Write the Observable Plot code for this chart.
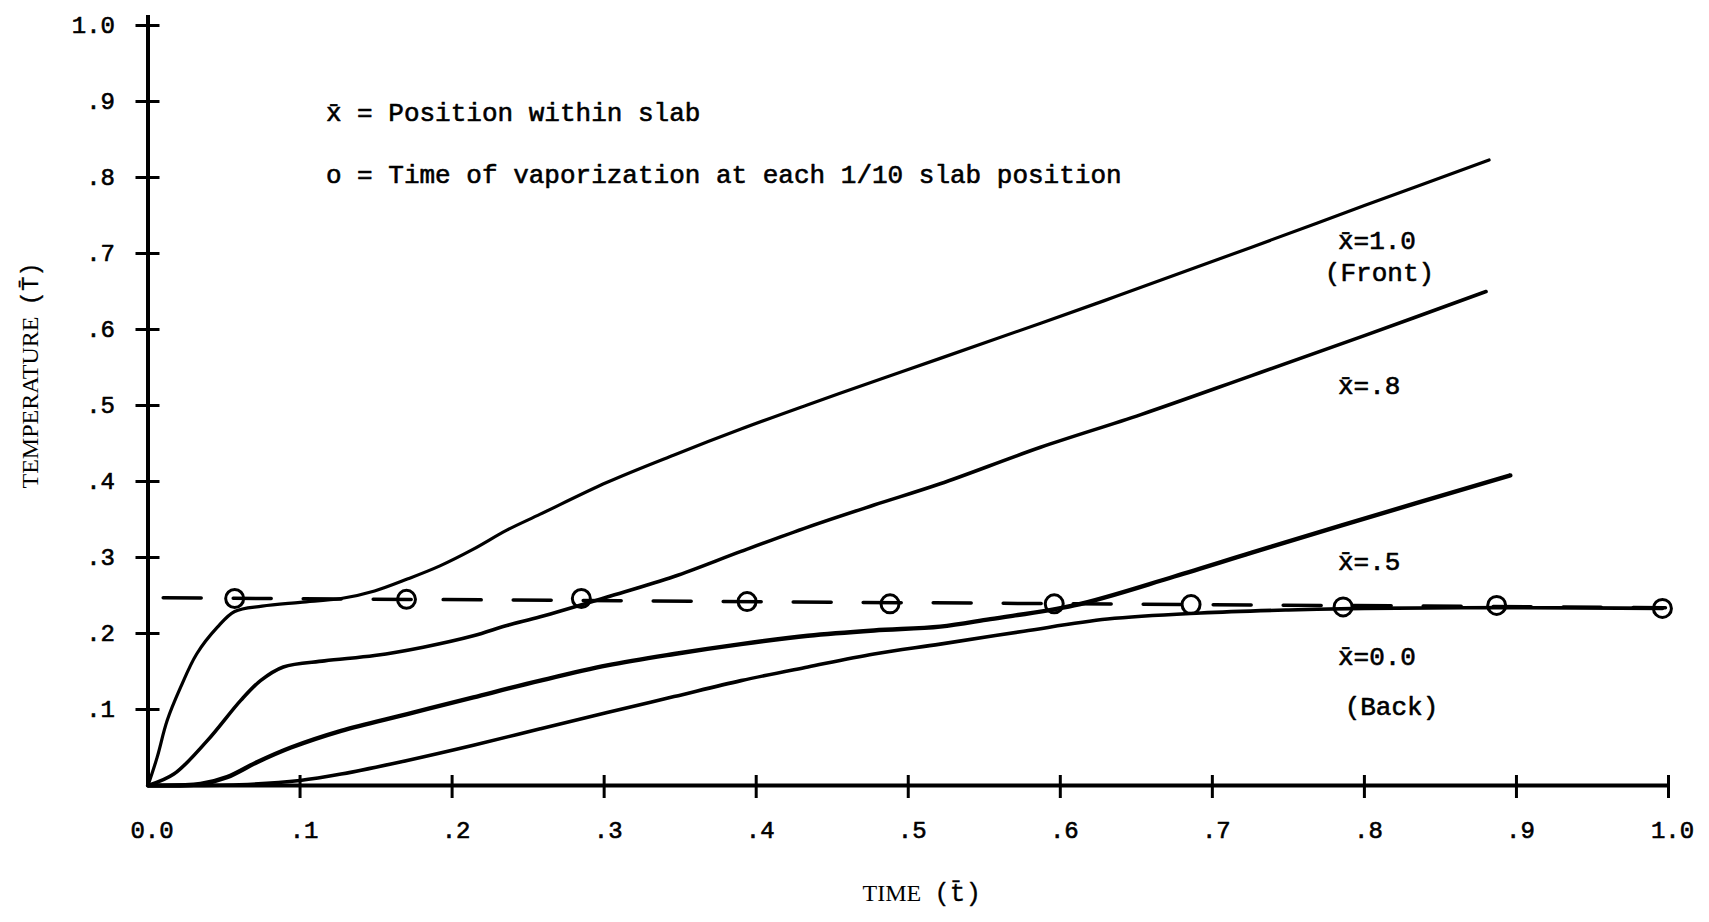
<!DOCTYPE html>
<html>
<head>
<meta charset="utf-8">
<script src="https://cdn.jsdelivr.net/npm/d3@7"></script>
<script src="https://cdn.jsdelivr.net/npm/@observablehq/plot@0.6"></script>
<style>
  html, body { margin: 0; padding: 0; background: #fff; }
  #chart svg { display: block; }
</style>
</head>
<body>
<div id="chart"></div>
<script>
// ---- tick values and labels ----
const xTickValues = [0, 0.1, 0.2, 0.3, 0.4, 0.5, 0.6, 0.7, 0.8, 0.9, 1.0];
const xTickLabels = ["0.0", ".1", ".2", ".3", ".4", ".5", ".6", ".7", ".8", ".9", "1.0"];
const yTickValues = [0.1, 0.2, 0.3, 0.4, 0.5, 0.6, 0.7, 0.8, 0.9, 1.0];
const yTickLabels = [".1", ".2", ".3", ".4", ".5", ".6", ".7", ".8", ".9", "1.0"];

// ---- x = 1.0 (Front) ----
const frontTime = [0, 0.006, 0.0126, 0.0214, 0.032, 0.0455, 0.057, 0.075, 0.10, 0.127, 0.149, 0.171, 0.192, 0.214, 0.236, 0.258, 0.302, 0.346, 0.39, 0.434, 0.482, 0.521, 0.629, 0.7254, 0.80, 0.882];
const frontTemp = [0, 0.037, 0.0855, 0.129, 0.173, 0.208, 0.229, 0.236, 0.241, 0.246, 0.256, 0.272, 0.289, 0.311, 0.336, 0.357, 0.399, 0.435, 0.469, 0.501, 0.535, 0.562, 0.638, 0.708, 0.763, 0.823];

// ---- x = .8 ----
const x08Time = [0, 0.017, 0.039, 0.061, 0.074, 0.089, 0.116, 0.149, 0.181, 0.214, 0.236, 0.258, 0.302, 0.346, 0.39, 0.434, 0.4775, 0.521, 0.587, 0.653, 0.7254, 0.80, 0.880];
const x08Temp = [0, 0.015, 0.059, 0.112, 0.138, 0.156, 0.164, 0.171, 0.182, 0.197, 0.2105, 0.222, 0.248, 0.275, 0.308, 0.340, 0.369, 0.397, 0.445, 0.488, 0.539, 0.592, 0.650];

// ---- x = .5 ----
const x05Time = [0, 0.0345, 0.052, 0.072, 0.094, 0.127, 0.1705, 0.214, 0.258, 0.302, 0.346, 0.39, 0.434, 0.4775, 0.521, 0.554, 0.609, 0.675, 0.7254, 0.7845, 0.896];
const x05Temp = [0, 0.002, 0.011, 0.031, 0.050, 0.072, 0.094, 0.116, 0.138, 0.158, 0.173, 0.186, 0.197, 0.204, 0.209, 0.219, 0.237, 0.275, 0.306, 0.342, 0.408];

// ---- x = 0.0 (Back) ----
const x00Time = [0, 0.06, 0.1, 0.127, 0.1705, 0.214, 0.258, 0.302, 0.346, 0.39, 0.434, 0.4775, 0.521, 0.576, 0.631, 0.6924, 0.75, 0.80, 0.90, 0.996];
const x00Temp = [0, 0.001, 0.0066, 0.015, 0.033, 0.053, 0.0746, 0.096, 0.117, 0.138, 0.156, 0.173, 0.186, 0.203, 0.219, 0.227, 0.231, 0.233, 0.234, 0.233];

// ---- vaporization times (circles) and vaporization line ----
const vapTime = [0.057, 0.170, 0.285, 0.394, 0.488, 0.596, 0.686, 0.786, 0.887, 0.996];
const vapTemp = [0.246, 0.245, 0.246, 0.242, 0.239, 0.239, 0.238, 0.235, 0.237, 0.233];
const vapLineTime = [0.01, 0.998];
const vapLineTemp = [0.247, 0.234];

const rows = (ts, Ts) => ts.map((t, i) => ({t, T: Ts[i]}));

const mono = "Liberation Mono, Courier New, monospace";
const serif = "Liberation Serif, Times New Roman, serif";
const typed = {fontFamily: mono, fill: "black", stroke: "black", strokeWidth: 0.6};

const chart = Plot.plot({
  width: 1709,
  height: 922,
  marginLeft: 147.5,
  marginRight: 41,
  marginTop: 25,
  marginBottom: 137,
  x: {domain: [0, 1], axis: null},
  y: {domain: [0, 1], axis: null},
  style: {background: "white", color: "black", overflow: "visible"},
  marks: [
    // axis lines
    Plot.ruleX([0], {strokeWidth: 4, insetTop: -10}),
    Plot.ruleY([0], {strokeWidth: 4}),
    // crossing ticks
    Plot.axisY({ticks: yTickValues, anchor: "left", tickSize: 24, dx: 12, fill: "none", strokeWidth: 3, label: null}),
    Plot.axisX({ticks: xTickValues.slice(1), anchor: "bottom", tickSize: 23, dy: -10, fill: "none", strokeWidth: 3, label: null}),
    // tick labels
    Plot.text(yTickValues, {y: d => d, frameAnchor: "left", dx: -33, textAnchor: "end", text: (d, i) => yTickLabels[i], fontSize: 24, ...typed}),
    Plot.text(xTickValues, {x: d => d, frameAnchor: "bottom", dy: 52, dx: 4, textAnchor: "middle", text: (d, i) => xTickLabels[i], fontSize: 24, ...typed}),
    // axis titles
    Plot.text(["TEMPERATURE"], {frameAnchor: "left", dx: -118, dy: 83, rotate: -90, textAnchor: "start", text: d => d, fontFamily: serif, fontSize: 24, fill: "black"}),
    Plot.text(["(T\u0304)"], {frameAnchor: "left", dx: -118, dy: -100, rotate: -90, textAnchor: "start", text: d => d, fontSize: 24, ...typed, strokeWidth: 0.3}),
    Plot.text(["TIME"], {frameAnchor: "bottom", dx: 13, dy: 115, textAnchor: "end", text: d => d, fontFamily: serif, fontSize: 24, fill: "black"}),
    Plot.text(["(t\u0304)"], {frameAnchor: "bottom", dx: 26, dy: 115, textAnchor: "start", text: d => d, fontSize: 26, ...typed, strokeWidth: 0.3}),
    // vaporization line and circles
    Plot.line(rows(vapLineTime, vapLineTemp), {x: "t", y: "T", stroke: "black", strokeWidth: 3.5, strokeDasharray: "38,32"}),
    Plot.dot(rows(vapTime, vapTemp), {x: "t", y: "T", r: 9, stroke: "black", strokeWidth: 3, fill: "none"}),
    // temperature curves
    Plot.line(rows(frontTime, frontTemp), {x: "t", y: "T", stroke: "black", strokeWidth: 3.2, curve: "catmull-rom"}),
    Plot.line(rows(x08Time, x08Temp), {x: "t", y: "T", stroke: "black", strokeWidth: 3.6, curve: "catmull-rom"}),
    Plot.line(rows(x05Time, x05Temp), {x: "t", y: "T", stroke: "black", strokeWidth: 4.4, curve: "catmull-rom"}),
    Plot.line(rows(x00Time, x00Temp), {x: "t", y: "T", stroke: "black", strokeWidth: 3.6, curve: "catmull-rom"}),
    // curve labels
    Plot.text(["x\u0304=1.0"], {x: 0.7826, y: 0.717, text: d => d, textAnchor: "start", fontSize: 26, ...typed}),
    Plot.text(["(Front)"], {x: 0.774, y: 0.675, text: d => d, textAnchor: "start", fontSize: 26, ...typed}),
    Plot.text(["x\u0304=.8"], {x: 0.7826, y: 0.526, text: d => d, textAnchor: "start", fontSize: 26, ...typed}),
    Plot.text(["x\u0304=.5"], {x: 0.7826, y: 0.295, text: d => d, textAnchor: "start", fontSize: 26, ...typed}),
    Plot.text(["x\u0304=0.0"], {x: 0.7826, y: 0.170, text: d => d, textAnchor: "start", fontSize: 26, ...typed}),
    Plot.text(["(Back)"], {x: 0.787, y: 0.104, text: d => d, textAnchor: "start", fontSize: 26, ...typed}),
    // legend notes
    Plot.text(["x\u0304 = Position within slab"], {x: 0.117, y: 0.8855, text: d => d, textAnchor: "start", fontSize: 26, ...typed}),
    Plot.text(["o = Time of vaporization at each 1/10 slab position"], {x: 0.117, y: 0.804, text: d => d, textAnchor: "start", fontSize: 26, ...typed})
  ]
});

document.getElementById("chart").appendChild(chart);
</script>
</body>
</html>
